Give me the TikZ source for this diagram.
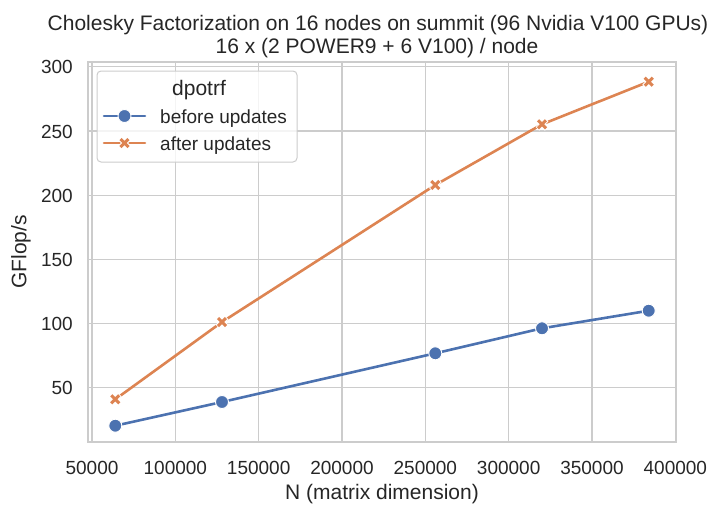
\documentclass[tikz,border=0pt]{standalone}
\usepackage{fontspec}
\setmainfont{Liberation Sans}
\definecolor{gridc}{HTML}{CCCCCC}
\definecolor{txt}{HTML}{262626}
\definecolor{sblue}{HTML}{4C72B0}
\definecolor{sorange}{HTML}{DD8452}
\tikzset{
  lbl/.style={text=txt,font=\fontsize{19}{22}\selectfont,inner sep=0pt},
  biglbl/.style={text=txt,font=\fontsize{21}{24}\selectfont,inner sep=0pt},
  gridline/.style={draw=gridc,line width=1.2pt},
  spine/.style={draw=gridc,line width=1.6pt},
  blueline/.style={draw=sblue,line width=2.6pt,line cap=round},
  orangeline/.style={draw=sorange,line width=2.6pt,line cap=round},
  dotmark/.style={circle,fill=sblue,draw=white,line width=0.9pt,minimum size=13pt,inner sep=0pt},
}
\newcommand\xmark[1]{%
  \draw[white,line width=5pt] ($(#1)+(-4.6,-4.6)$) -- ($(#1)+(4.6,4.6)$) ($(#1)+(-4.6,4.6)$) -- ($(#1)+(4.6,-4.6)$);
  \draw[sorange,line width=3pt] ($(#1)+(-4,-4)$) -- ($(#1)+(4,4)$) ($(#1)+(-4,4)$) -- ($(#1)+(4,-4)$);}
\usetikzlibrary{calc}
\begin{document}
\begin{tikzpicture}[x=1pt,y=-1pt]
\useasboundingbox (0,0) rectangle (715,504);
% grid
\foreach \i in {0,...,7}{
  \pgfmathsetmacro\gx{92+83.333*\i}
  \draw[gridline] (\gx,62) -- (\gx,442);
}
\foreach \v in {50,100,...,300}{
  \pgfmathsetmacro\gy{452-1.284*\v}
  \draw[gridline] (88,\gy) -- (676,\gy);
}
% spines
\draw[spine] (88,62) rectangle (676,442);
% tick labels
\foreach \i/\t in {0/50000,1/100000,2/150000,3/200000,4/250000,5/300000,6/350000,7/400000}{
  \pgfmathsetmacro\gx{92+83.333*\i}
  \node[lbl,anchor=base] (xt\i) at (\gx,474) {\t};
}
\foreach \v in {50,100,...,300}{
  \pgfmathsetmacro\gy{452-1.284*\v+7}
  \node[lbl,anchor=base east] (yt\v) at (73,\gy) {\v};
}
% axis labels
\node[biglbl,anchor=base] (xlab) at (382,499) {N (matrix dimension)};
\node[biglbl,rotate=90] (ylab) at (21,252) {GFlop/s};
% title
\node[biglbl,anchor=base] (t1) at (378,30) {Cholesky Factorization on 16 nodes on summit (96 Nvidia V100 GPUs)};
\node[biglbl,anchor=base] (t2) at (377,53) {16 x (2 POWER9 + 6 V100) / node};
% data points
\coordinate (b1) at (115.3,425.7);
\coordinate (b2) at (222,402);
\coordinate (b3) at (435.3,353.3);
\coordinate (b4) at (542,328.3);
\coordinate (b5) at (648.7,310.7);
\coordinate (o1) at (115.3,399.3);
\coordinate (o2) at (222,322);
\coordinate (o3) at (435.3,185);
\coordinate (o4) at (542,124.3);
\coordinate (o5) at (648.7,81.7);
\draw[blueline] (b1) -- (b2) -- (b3) -- (b4) -- (b5);
\draw[orangeline] (o1) -- (o2) -- (o3) -- (o4) -- (o5);
\foreach \k in {1,...,5}{\node[dotmark] (bm\k) at (b\k) {};}
\foreach \k in {1,...,5}{\xmark{o\k}}
% legend
\draw[draw=gridc,fill=white,fill opacity=0.8,line width=1pt,rounded corners=4pt] (97,71) rectangle (297,162);
\node[biglbl,anchor=base] (legt) at (199,95) {dpotrf};
\coordinate (l1a) at (104,116); \coordinate (l1b) at (145,116);
\coordinate (l1m) at (124.5,116);
\draw[blueline] (l1a) -- (l1b);
\node[dotmark] (lm1) at (l1m) {};
\node[lbl,anchor=base west] (le1) at (160,123) {before updates};
\coordinate (l2a) at (104,143); \coordinate (l2b) at (145,143);
\coordinate (l2m) at (124.5,143);
\draw[orangeline] (l2a) -- (l2b);
\xmark{l2m}
\node[lbl,anchor=base west] (le2) at (160,150) {after updates};
\end{tikzpicture}
\end{document}
